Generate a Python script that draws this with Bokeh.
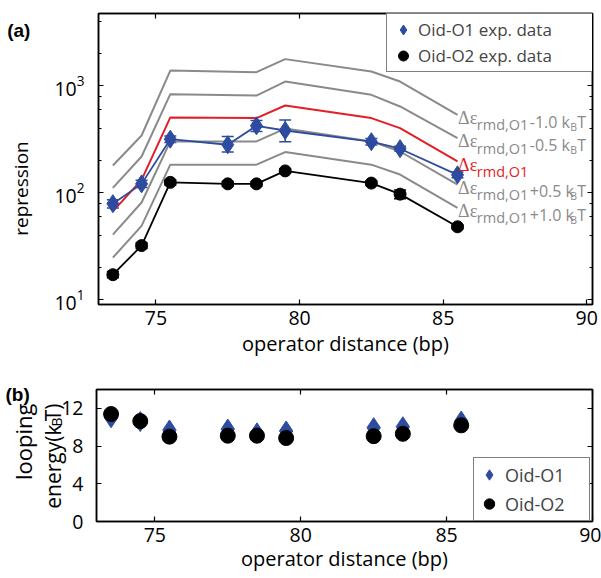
import math
from bokeh.plotting import figure
from bokeh.models import (Range1d, LogAxis, LinearAxis, FixedTicker, LogTicker, Label,
                          Legend, LegendItem, Whisker, TeeHead, ColumnDataSource,
                          CustomJSTickFormatter, LogTickFormatter, GridBox)
from bokeh.embed import file_html
from bokeh.resources import INLINE

# ---------------- data ----------------
dist = [73.5, 74.5, 75.5, 77.5, 78.5, 79.5, 82.5, 83.5, 85.5]
rep_o1 = [79, 121, 317, 281, 423, 382, 300, 258, 147]
rep_o1_lo = [72, 112, 295, 240, 374, 300, 280, 245, 138]
rep_o1_hi = [86, 131, 340, 336, 474, 478, 322, 272, 156]
rep_o2 = [17.1, 32, 125, 121, 121, 160, 123, 97, 48]
rep_o2_lo = [16, 30, 118, 115, 115, 152, 117, 88, 46]
rep_o2_hi = [18.3, 34, 132, 127, 127, 168, 129, 106, 50]

theory_dist = [73.5, 74.5, 75.5, 78.5, 79.5, 82.5, 83.5, 85.5]
theory_m10 = [180, 343, 1390, 1343, 1778, 1360, 1097, 535]
theory_m05 = [111, 218, 836, 811, 1097, 824, 641, 324]
theory_0 = [67, 132, 506, 499, 655, 499, 402, 196]
theory_p05 = [40.5, 81, 302, 302, 398, 302, 243, 119]
theory_p10 = [24.7, 49, 183, 183, 240, 183, 148, 72]
theory_shift = ["-1.0", "-0.5", "", "+0.5", "+1.0"]

loop_o1 = [11.0, 10.6, 9.7, 9.8, 9.4, 9.6, 9.95, 10.05, 10.65]
loop_o2 = [11.4, 10.65, 9.0, 9.1, 9.1, 8.85, 9.05, 9.3, 10.2]

xticks = [75, 80, 85, 90]
ytick_bot = [0, 4, 8, 12]

# ---------------- styles ----------------
BLUE = "#2e4c9f"
RED = "#e41e26"
GRAY = "#8a8a8a"
SANS = "Open Sans"
TICKFS = "19.5px"


def style_axis(ax, labels=False, standoff=0):
    ax.axis_line_color = "black"
    ax.axis_line_width = 1.5
    ax.major_tick_line_color = "black"
    ax.major_tick_line_width = 1.2
    ax.minor_tick_line_color = "black"
    ax.minor_tick_line_width = 1
    ax.major_tick_in = 5
    ax.major_tick_out = 0
    ax.minor_tick_in = 3
    ax.minor_tick_out = 0
    ax.major_label_standoff = standoff
    if labels:
        ax.major_label_text_font = SANS
        ax.major_label_text_font_size = TICKFS
        ax.major_label_text_color = "black"
    else:
        ax.major_label_text_font_size = "0px"
        ax.formatter = CustomJSTickFormatter(code="return '';")
        ax.axis_label = None


def axis_title(ax, text, size, standoff):
    ax.axis_label = text
    ax.axis_label_text_font = SANS
    ax.axis_label_text_font_size = size
    ax.axis_label_text_font_style = "normal"
    ax.axis_label_text_color = "black"
    ax.axis_label_standoff = standoff


def lab(p, x, y, text, xo, yo, size, color="black", align="left", base="alphabetic",
        font=SANS, angle=0.0, style="normal"):
    p.add_layout(Label(x=x, y=y, text=text, x_offset=xo, y_offset=yo,
                       text_font=font, text_font_size=size, text_color=color,
                       text_align=align, text_baseline=base, angle=angle,
                       text_font_style=style))


# ================= panel (a) =================
X0, X1 = 73, 90.2
Y0, Y1 = 9, 4750
p1 = figure(x_range=Range1d(X0, X1), y_range=Range1d(Y0, Y1), y_axis_type="log",
            frame_width=494, frame_height=291, min_border_left=98, min_border_right=9,
            min_border_top=13, min_border_bottom=74, output_backend="svg",
            toolbar_location=None, frame_align=False)
p1.grid.visible = False
p1.outline_line_color = "black"
p1.outline_line_width = 1.5
p1.below[0].ticker = FixedTicker(ticks=xticks)
p1.left[0].ticker = LogTicker()
p1.left[0].formatter = LogTickFormatter()
p1.add_layout(LinearAxis(ticker=FixedTicker(ticks=xticks)), "above")
p1.add_layout(LogAxis(ticker=LogTicker()), "right")
style_axis(p1.below[0], labels=True, standoff=6)
style_axis(p1.left[0], labels=True, standoff=14)
style_axis(p1.above[0])
style_axis(p1.right[0])
axis_title(p1.below[0], "operator distance (bp)", "20px", 2)

for vals in [theory_m10, theory_m05, theory_p05, theory_p10]:
    p1.line(theory_dist, vals, line_color=GRAY, line_width=2)
p1.line(theory_dist, theory_0, line_color=RED, line_width=2)

src2 = ColumnDataSource(dict(x=dist, y=rep_o2, lo=rep_o2_lo, hi=rep_o2_hi))
src1 = ColumnDataSource(dict(x=dist, y=rep_o1, lo=rep_o1_lo, hi=rep_o1_hi))

p1.line("x", "y", source=src2, line_color="black", line_width=1.8)
p1.add_layout(Whisker(base="x", upper="hi", lower="lo", source=src2, line_color="black",
                      line_width=1.5,
                      upper_head=TeeHead(size=12, line_color="black", line_width=1.5),
                      lower_head=TeeHead(size=12, line_color="black", line_width=1.5)))
r_o2 = p1.scatter("x", "y", source=src2, marker="circle", size=12, fill_color="black",
                  line_color="black")

p1.line("x", "y", source=src1, line_color=BLUE, line_width=1.8)
p1.add_layout(Whisker(base="x", upper="hi", lower="lo", source=src1, line_color=BLUE,
                      line_width=1.5,
                      upper_head=TeeHead(size=12, line_color=BLUE, line_width=1.5),
                      lower_head=TeeHead(size=12, line_color=BLUE, line_width=1.5)))
r_o1 = p1.scatter("x", "y", source=src1, marker="diamond", size=18, fill_color=BLUE,
                  line_color=BLUE)

leg1 = Legend(items=[LegendItem(label="Oid-O1 exp. data", renderers=[r_o1]),
                     LegendItem(label="Oid-O2 exp. data", renderers=[r_o2])],
              location=(288, 232), margin=0, padding=3, spacing=1,
              glyph_width=26, glyph_height=25, label_standoff=2, label_width=183,
              label_text_font=SANS, label_text_font_size="17px",
              border_line_color="black", border_line_width=1.5,
              background_fill_color="white", background_fill_alpha=1.0)
p1.add_layout(leg1)

for vals, shift, col in zip([theory_m10, theory_m05, theory_0, theory_p05, theory_p10],
                            theory_shift, [GRAY, GRAY, RED, GRAY, GRAY]):
    xe, ye = theory_dist[-1], vals[-1]
    lab(p1, xe, ye, "Δε", 0.6, -3.3, "18px", col, font="Liberation Serif")
    lab(p1, xe, ye, "rmd,O1", 19.3, -10, "14.5px", col)
    if shift:
        lab(p1, xe, ye, shift + " k", 72.3, -6.7, "16px", col)
        lab(p1, xe, ye, "B", 112.8, -11.7, "10.5px", col)
        lab(p1, xe, ye, "T", 119.8, -6.7, "16px", col)

# ================= panel (b) =================
BX0, BX1 = 73, 90
BY0, BY1 = 0, 14
p2 = figure(x_range=Range1d(BX0, BX1), y_range=Range1d(BY0, BY1),
            frame_width=496, frame_height=132, min_border_left=96, min_border_right=9,
            min_border_top=11, min_border_bottom=57, output_backend="svg",
            toolbar_location=None, frame_align=False)
p2.grid.visible = False
p2.outline_line_color = "black"
p2.outline_line_width = 1.5
p2.below[0].ticker = FixedTicker(ticks=xticks)
p2.left[0].ticker = FixedTicker(ticks=ytick_bot)
p2.add_layout(LinearAxis(ticker=FixedTicker(ticks=xticks)), "above")
p2.add_layout(LinearAxis(ticker=FixedTicker(ticks=ytick_bot)), "right")
style_axis(p2.below[0], labels=True, standoff=6)
style_axis(p2.left[0], labels=True, standoff=13)
style_axis(p2.above[0])
style_axis(p2.right[0])
axis_title(p2.below[0], "operator distance (bp)", "20px", 0)

b1 = p2.scatter(dist, loop_o1, marker="diamond", size=20, fill_color=BLUE, line_color=BLUE)
b2 = p2.scatter(dist, loop_o2, marker="circle", size=15, fill_color="black",
                line_color="black")

leg2 = Legend(items=[LegendItem(label="Oid-O1", renderers=[b1]),
                     LegendItem(label="Oid-O2", renderers=[b2])],
              location=(377, 0), margin=0, padding=2, spacing=0,
              glyph_width=26, glyph_height=29, label_standoff=3, label_width=82,
              label_text_font=SANS, label_text_font_size="18px",
              border_line_color="black", border_line_width=1.5,
              background_fill_color="white", background_fill_alpha=1.0)
p2.add_layout(leg2)

# ====== transparent overlay (page pixel coordinates) for panel tags & y titles ======
p3 = figure(width=601, height=578, x_range=Range1d(0, 601), y_range=Range1d(578, 0),
            x_axis_location=None, y_axis_location=None, min_border=0,
            output_backend="svg", toolbar_location=None, frame_align=False)
p3.grid.visible = False
p3.outline_line_color = None
p3.background_fill_color = None
p3.border_fill_color = None


def olab(x, y, text, size, align="left", angle=0.0, font=SANS, style="normal"):
    p3.add_layout(Label(x=x, y=y, text=text, text_font=font, text_font_size=size,
                        text_color="black", text_align=align,
                        text_baseline="alphabetic", angle=angle,
                        text_font_style=style))


olab(6.7, 29.5, "(a)", "19px", font="Liberation Sans", style="bold")
olab(5, 394, "(b)", "19px", font="Liberation Sans", style="bold")
olab(20.7, 188, "repression", "19px", align="center", angle=math.pi / 2)
olab(22, 403, "looping", "22px", align="right", angle=math.pi / 2)
olab(52, 424, "energy(k", "21px", align="right", angle=math.pi / 2)
olab(56, 417, "B", "14px", align="right", angle=math.pi / 2)
olab(52, 403, "T)", "21px", align="right", angle=math.pi / 2)

grid = GridBox(children=[(p1, 0, 0), (p2, 1, 0), (p3, 0, 0, 2, 1)], spacing=0)
open("out.html", "w").write(file_html(grid, INLINE))
